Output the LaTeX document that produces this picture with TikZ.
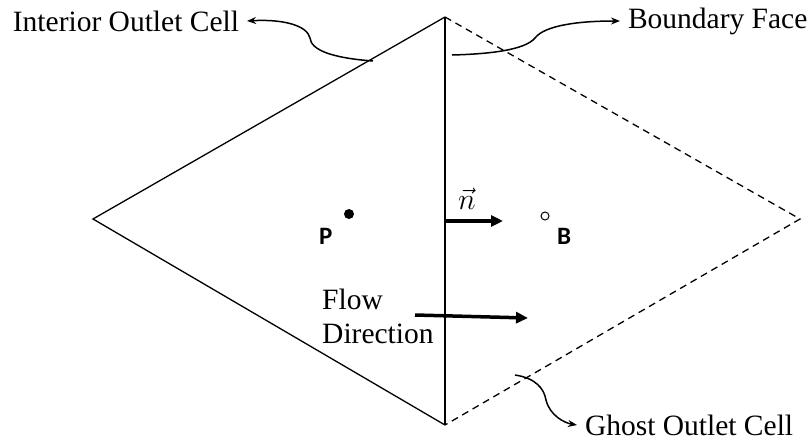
\RequirePackage{fix-cm}
\documentclass[tikz,border=0pt]{standalone}
\usepackage{fontspec}
\setmainfont{Liberation Serif}
\newfontfamily\labsans{Carlito}
\usetikzlibrary{arrows.meta}
\begin{document}
\begin{tikzpicture}[x=1pt,y=-1pt,
  edge/.style={line width=1.3pt, line join=miter},
  ghostedge/.style={line width=1.3pt, dash pattern=on 7pt off 5pt},
  callout/.style={line width=1.5pt, -{Stealth[length=9pt,width=7pt]}},
  bigarrow/.style={line width=3.5pt, -{Triangle[length=12pt,width=11pt]}},
  lab/.style={font=\fontsize{29.5}{34}\selectfont, inner sep=0pt, outer sep=8pt},
  ptlab/.style={font=\fontsize{25}{27}\labsans\bfseries, inner sep=0pt, anchor=base west}]
\useasboundingbox (0,0) rectangle (812,442);
% vertices
\coordinate (T) at (445,17);
\coordinate (Bt) at (445,425);
\coordinate (L) at (93,219);
\coordinate (R) at (800,219);
% cells
\draw[edge] (T) -- (L) -- (Bt);
\draw[edge] (T) -- (Bt);
\draw[ghostedge] (T) -- (R) -- (Bt);
% points
\node[circle, fill=black, inner sep=0pt, minimum size=10pt] (Pdot) at (349,214) {};
\node[circle, draw=black, line width=1pt, fill=white, inner sep=0pt, minimum size=8pt] (Bdot) at (545,216) {};
\node[ptlab] (P) at (319,244) {P};
\node[ptlab] (B) at (557,244) {B};
% normal
\coordinate (n0) at (446,221);
\coordinate (n1) at (503,221);
\draw[bigarrow] (n0) -- (n1);
\node[font=\fontsize{30}{32}\selectfont, inner sep=0pt] (nlab) at (467,199) {$\vec{n}$};
% flow
\node[font=\fontsize{29.5}{34}\selectfont, inner sep=0pt, align=left, anchor=base west] (flow) at (322,343) {Flow\\Direction};
\coordinate (f0) at (415,315);
\coordinate (f1) at (528,318);
\draw[bigarrow] (f0) -- (f1);
% labels
\node[lab, anchor=east] (ioc) at (247,21) {Interior Outlet Cell};
\node[lab, anchor=west] (bf) at (620,21) {Boundary Face};
\node[lab, anchor=west] (goc) at (577,425) {Ghost Outlet Cell};
% callouts
\coordinate (c1) at (373,61);
\coordinate (c2) at (452,55);
\coordinate (c3) at (515,375);
\draw[callout] (c1) .. controls (332,58) and (311,50) .. (310,38) .. controls (307,25) and (282,19) .. (ioc.east);
\draw[callout] (c2) .. controls (490,54) and (525,50) .. (535,38) .. controls (545,25) and (580,21) .. (bf.west);
\draw[callout] (c3) .. controls (535,378) and (544,388) .. (546,400) .. controls (550,416) and (565,423) .. (goc.west);
\end{tikzpicture}
\end{document}
